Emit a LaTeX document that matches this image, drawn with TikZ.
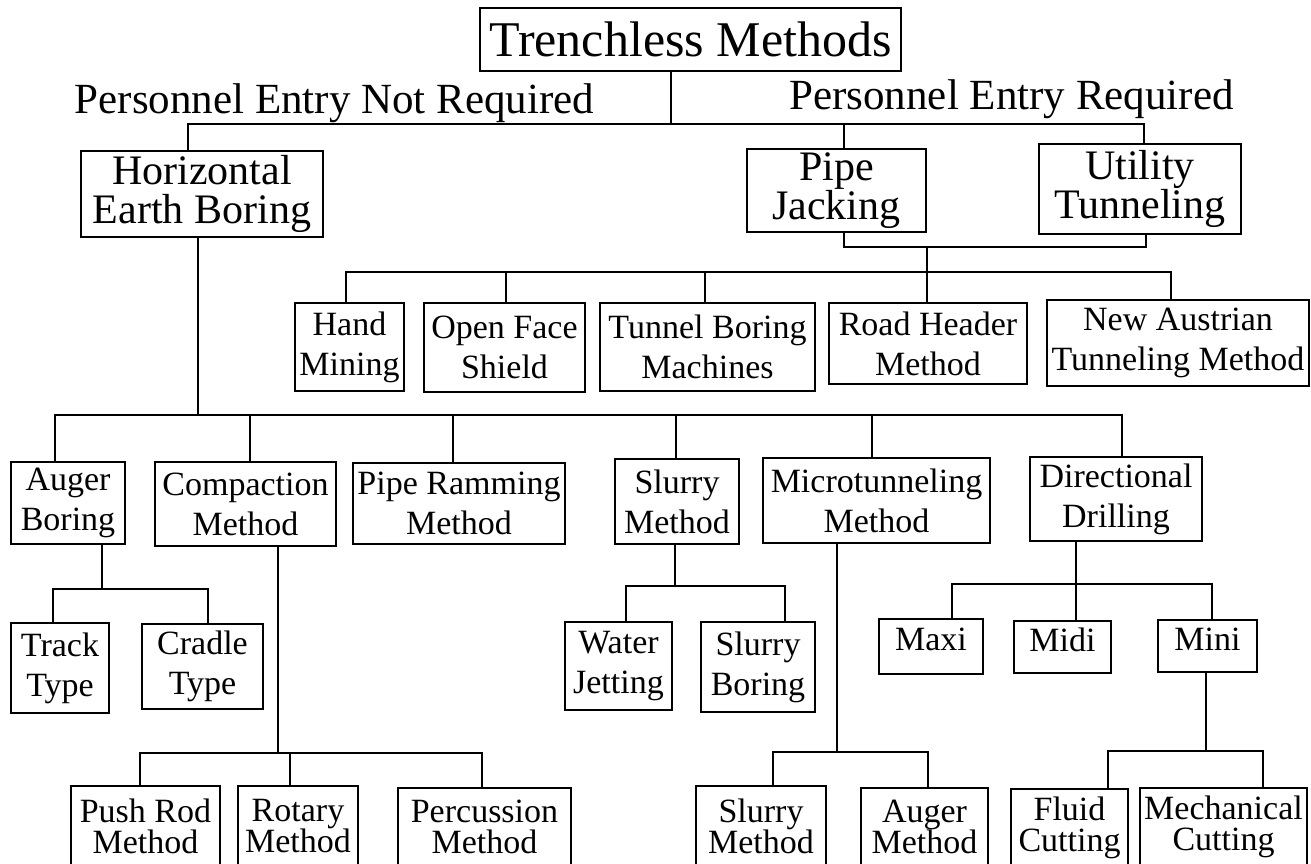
\documentclass[tikz,border=0pt]{standalone}
\usepackage{fontspec}
\setmainfont{Liberation Serif}
\begin{document}
\begin{tikzpicture}[x=1pt,y=-1pt,line width=1.3pt]
\tikzstyle{box}=[draw,align=center,inner sep=2pt,font=\fontsize{34}{40}\selectfont]
\tikzstyle{bigbox}=[box,font=\fontsize{42}{39}\selectfont]
\tikzstyle{lowbox}=[box,font=\fontsize{34}{31}\selectfont]
\tikzstyle{branch}=[font=\fontsize{43}{48}\selectfont,anchor=base,inner sep=0pt]
\useasboundingbox (0,0) rectangle (1311,863);
% top
\node[draw,inner sep=2pt,font=\fontsize{50}{56}\selectfont,minimum width=421pt,minimum height=63pt] (tm) at (690.5,39.5) {Trenchless Methods};
\node[branch] (pnr) at (334.5,113) {Personnel Entry Not Required};
\node[branch] (pyr) at (1011.5,109) {Personnel Entry Required};
\node[bigbox,minimum width=242pt,minimum height=86pt] (heb) at (202,194) {Horizontal\\Earth Boring};
\node[bigbox,minimum width=179pt,minimum height=83pt] (pj) at (836.5,190.5) {Pipe\\Jacking};
\node[bigbox,minimum width=202pt,minimum height=90pt] (ut) at (1140,189) {Utility\\Tunneling};
% personnel entry required
\node[box,minimum width=109pt,minimum height=88pt] (hm) at (349.5,347) {Hand\\Mining};
\node[box,minimum width=161pt,minimum height=89pt] (ofs) at (504.5,347.5) {Open Face\\Shield};
\node[box,minimum width=215pt,minimum height=88pt] (tbm) at (707.5,347) {Tunnel Boring\\Machines};
\node[box,minimum width=198pt,minimum height=81pt] (rh) at (928,343.5) {Road Header\\Method};
\node[box,minimum width=262pt,minimum height=86pt] (natm) at (1178,343) {New Austrian\\Tunneling Method};
% horizontal earth boring
\node[box,minimum width=114pt,minimum height=82pt] (ab) at (68,503) {Auger\\Boring};
\node[box,minimum width=181pt,minimum height=84pt] (cm) at (245.5,504) {Compaction\\Method};
\node[box,minimum width=212pt,minimum height=81pt] (prm) at (459,503.5) {Pipe Ramming\\Method};
\node[box,minimum width=124pt,minimum height=85pt] (sm) at (677,501.5) {Slurry\\Method};
\node[box,minimum width=227pt,minimum height=85pt] (mt) at (876.5,500.5) {Microtunneling\\Method};
\node[box,minimum width=172pt,minimum height=84pt] (dd) at (1116,499) {Directional\\Drilling};
\node[box,minimum width=98pt,minimum height=90pt] (tt) at (60,668) {Track\\Type};
\node[box,minimum width=121pt,minimum height=85pt] (ct) at (202.5,666.5) {Cradle\\Type};
\node[box,minimum width=107pt,minimum height=88pt] (wj) at (618.5,666) {Water\\Jetting};
\node[box,minimum width=114pt,minimum height=90pt] (sb) at (758,667) {Slurry\\Boring};
\node[box,minimum width=104pt,minimum height=55pt,text depth=14pt] (maxi) at (931,646.5) {Maxi};
\node[box,minimum width=97pt,minimum height=52pt,text depth=14pt] (midi) at (1062.5,647) {Midi};
\node[box,minimum width=99pt,minimum height=52pt,text depth=14pt] (mini) at (1207.5,646) {Mini};
\node[lowbox,minimum width=149pt,minimum height=80pt] (prd) at (145.5,826) {Push Rod\\Method};
\node[lowbox,minimum width=120pt,minimum height=80pt] (rm) at (298,826) {Rotary\\Method};
\node[lowbox,minimum width=173pt,minimum height=78pt] (pcm) at (484.5,827) {Percussion\\Method};
\node[lowbox,minimum width=130pt,minimum height=80pt] (slm) at (761,826) {Slurry\\Method};
\node[lowbox,minimum width=127pt,minimum height=78pt] (am) at (924.5,827) {Auger\\Method};
\node[lowbox,minimum width=117pt,minimum height=77pt] (fc) at (1069.5,827.5) {Fluid\\Cutting};
\node[lowbox,minimum width=167pt,minimum height=78pt] (mc) at (1223.5,827) {Mechanical\\Cutting};
% bus points
\coordinate (b1) at (671,124);
\coordinate (j2) at (927,247);
\coordinate (b2) at (927,272);
\coordinate (b3) at (198,415);
\coordinate (b4) at (102,589);
\coordinate (b5) at (278,753);
\coordinate (b6) at (675,586);
\coordinate (b7) at (837,752);
\coordinate (b8) at (1076,584);
\coordinate (b9) at (1206,751);
% connectors
\draw (tm.south -| b1) -- (b1);
\draw ([xshift=-14pt]heb.north) |- (b1);
\draw ([xshift=7.5pt]pj.north) |- (b1);
\draw ([xshift=4pt]ut.north) |- (b1);
\draw ([xshift=7.5pt]pj.south) |- (j2);
\draw ([xshift=6pt]ut.south) |- (j2);
\draw (j2) -- (b2);
\draw ([xshift=-3.5pt]hm.north) |- (b2);
\draw ([xshift=1.5pt]ofs.north) |- (b2);
\draw ([xshift=-2.5pt]tbm.north) |- (b2);
\draw ([xshift=-1pt]rh.north) |- (b2);
\draw ([xshift=-7pt]natm.north) |- (b2);
\draw (heb.south -| b3) -- (b3);
\draw ([xshift=-13pt]ab.north) |- (b3);
\draw ([xshift=4.5pt]cm.north) |- (b3);
\draw ([xshift=-6pt]prm.north) |- (b3);
\draw ([xshift=-1pt]sm.north) |- (b3);
\draw ([xshift=-4.5pt]mt.north) |- (b3);
\draw ([xshift=6pt]dd.north) |- (b3);
\draw (ab.south -| b4) -- (b4);
\draw ([xshift=-7pt]tt.north) |- (b4);
\draw ([xshift=5.5pt]ct.north) |- (b4);
\draw (cm.south -| b5) -- (b5);
\draw ([xshift=-5.5pt]prd.north) |- (b5);
\draw ([xshift=-8pt]rm.north) |- (b5);
\draw ([xshift=-2.5pt]pcm.north) |- (b5);
\draw (sm.south -| b6) -- (b6);
\draw ([xshift=7.5pt]wj.north) |- (b6);
\draw ([xshift=27pt]sb.north) |- (b6);
\draw (mt.south -| b7) -- (b7);
\draw ([xshift=12pt]slm.north) |- (b7);
\draw ([xshift=3.5pt]am.north) |- (b7);
\draw (dd.south -| b8) -- (b8);
\draw ([xshift=21pt]maxi.north) |- (b8);
\draw ([xshift=13.5pt]midi.north) |- (b8);
\draw ([xshift=4.5pt]mini.north) |- (b8);
\draw (mini.south -| b9) -- (b9);
\draw ([xshift=38.5pt]fc.north) |- (b9);
\draw ([xshift=39.5pt]mc.north) |- (b9);
\end{tikzpicture}
\end{document}
